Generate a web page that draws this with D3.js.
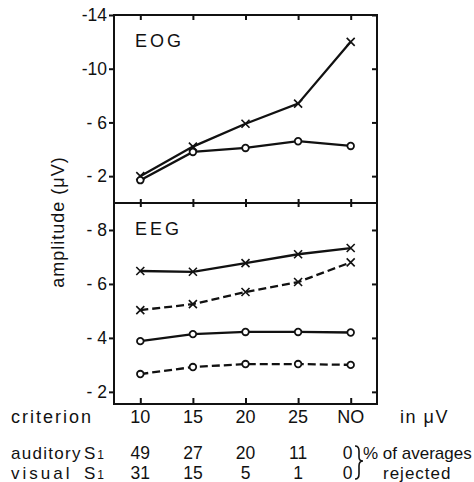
<!DOCTYPE html>
<html>
<head>
<meta charset="utf-8">
<script src="https://cdn.jsdelivr.net/npm/d3@7"></script>
<style>
  html, body { margin: 0; padding: 0; background: #fff; }
  svg { display: block; font-family: "Liberation Sans", Arial, sans-serif; }
</style>
</head>
<body>
<svg id="chart"></svg>
<script>
const criteria = ["10", "15", "20", "25", "NO"];

// EOG panel
const eogCross = [-2.0, -4.2, -5.9, -7.4, -12.0];
const eogCircle = [-1.7, -3.8, -4.1, -4.6, -4.25];

// EEG panel
const eegCrossSolid = [-6.48, -6.45, -6.77, -7.1, -7.33];
const eegCrossDashed = [-5.03, -5.25, -5.7, -6.07, -6.8];
const eegCircleSolid = [-3.88, -4.14, -4.22, -4.22, -4.2];
const eegCircleDashed = [-2.66, -2.92, -3.03, -3.03, -3.0];

const eogTicks = [-14, -10, -6, -2];
const eegTicks = [-8, -6, -4, -2];

const auditoryRejected = [49, 27, 20, 11, 0];
const visualRejected = [31, 15, 5, 1, 0];

const W = 474, H = 482;
const frame = { left: 114, right: 377, top: 15, mid: 203, bottom: 404 };

const svg = d3.select("#chart").attr("width", W).attr("height", H);

const x = d3.scalePoint().domain(criteria).range([frame.left, frame.right]).padding(0.5);
const yEog = d3.scaleLinear().domain([0, -14]).range([frame.mid, frame.top]);
const yEeg = d3.scaleLinear().domain([-1.55, -9]).range([frame.bottom, frame.mid]);

const fmt = (d) => (d <= -10 ? String(d) : "- " + Math.abs(d));

function styleAxis(g) {
  g.select(".domain").remove();
  g.selectAll("line").attr("stroke", "#111").attr("stroke-width", 2);
  g.selectAll("text")
    .attr("fill", "#111")
    .attr("font-size", 17.5)
    .attr("font-family", "Liberation Sans, Arial, sans-serif");
}

// left axes with labels
svg.append("g")
  .attr("transform", `translate(${frame.left},0)`)
  .call(d3.axisLeft(yEog).tickValues(eogTicks).tickSize(5).tickPadding(2).tickFormat(fmt))
  .call(styleAxis);
svg.append("g")
  .attr("transform", `translate(${frame.left},0)`)
  .call(d3.axisLeft(yEeg).tickValues(eegTicks).tickSize(5).tickPadding(2).tickFormat(fmt))
  .call(styleAxis);

// right inner ticks
svg.append("g")
  .attr("transform", `translate(${frame.right},0)`)
  .call(d3.axisLeft(yEog).tickValues(eogTicks).tickSize(5).tickFormat(""))
  .call(styleAxis);
svg.append("g")
  .attr("transform", `translate(${frame.right},0)`)
  .call(d3.axisLeft(yEeg).tickValues(eegTicks).tickSize(5).tickFormat(""))
  .call(styleAxis);

// x ticks: top (down), divider (both), bottom (up)
svg.append("g")
  .attr("transform", `translate(0,${frame.top})`)
  .call(d3.axisBottom(x).tickSize(5).tickFormat(""))
  .call(styleAxis);
svg.append("g")
  .attr("transform", `translate(0,${frame.mid})`)
  .call(d3.axisBottom(x).tickSize(4).tickFormat(""))
  .call(styleAxis);
svg.append("g")
  .attr("transform", `translate(0,${frame.mid})`)
  .call(d3.axisTop(x).tickSize(4).tickFormat(""))
  .call(styleAxis);
svg.append("g")
  .attr("transform", `translate(0,${frame.bottom})`)
  .call(d3.axisTop(x).tickSize(6).tickFormat(""))
  .call(styleAxis);

// frame
svg.append("rect")
  .attr("x", frame.left).attr("y", frame.top)
  .attr("width", frame.right - frame.left).attr("height", frame.bottom - frame.top)
  .attr("fill", "none").attr("stroke", "#111").attr("stroke-width", 2);
svg.append("line")
  .attr("x1", frame.left).attr("x2", frame.right)
  .attr("y1", frame.mid).attr("y2", frame.mid)
  .attr("stroke", "#111").attr("stroke-width", 2);

// series
const series = [
  { values: eogCross, y: yEog, marker: "x", dash: null },
  { values: eogCircle, y: yEog, marker: "o", dash: null },
  { values: eegCrossSolid, y: yEeg, marker: "x", dash: null },
  { values: eegCrossDashed, y: yEeg, marker: "x", dash: "8,4" },
  { values: eegCircleSolid, y: yEeg, marker: "o", dash: null },
  { values: eegCircleDashed, y: yEeg, marker: "o", dash: "8,4" },
];

series.forEach((s) => {
  const line = d3.line()
    .x((d, i) => x(criteria[i]))
    .y((d) => s.y(d));

  svg.append("path")
    .attr("d", line(s.values))
    .attr("fill", "none")
    .attr("stroke", "#111")
    .attr("stroke-width", 2.3)
    .attr("stroke-dasharray", s.dash);

  const pts = svg.append("g")
    .selectAll("g")
    .data(s.values)
    .join("g")
    .attr("transform", (d, i) => `translate(${x(criteria[i])},${s.y(d)})`);

  if (s.marker === "o") {
    pts.append("circle")
      .attr("r", 3.3)
      .attr("fill", "#fff")
      .attr("stroke", "#111")
      .attr("stroke-width", 1.8);
  } else {
    pts.append("path")
      .attr("d", "M-4,-4L4,4M-4,4L4,-4")
      .attr("stroke", "#111")
      .attr("stroke-width", 1.6);
  }
});

// panel labels
svg.append("text")
  .attr("x", 135).attr("y", 47)
  .attr("font-size", 18).attr("letter-spacing", 3).attr("fill", "#111")
  .text("EOG");
svg.append("text")
  .attr("x", 135).attr("y", 235)
  .attr("font-size", 18).attr("letter-spacing", 3).attr("fill", "#111")
  .text("EEG");

// y label
svg.append("text")
  .attr("transform", "translate(64,222) rotate(-90)")
  .attr("text-anchor", "middle")
  .attr("font-size", 18).attr("letter-spacing", 1).attr("fill", "#111")
  .text("amplitude (\u03bcV)");

// criterion row
svg.append("text")
  .attr("x", 11).attr("y", 423)
  .attr("font-size", 18).attr("letter-spacing", 2).attr("fill", "#111")
  .text("criterion");
svg.append("g")
  .selectAll("text")
  .data(criteria)
  .join("text")
  .attr("x", (d) => x(d)).attr("y", 423)
  .attr("text-anchor", "middle")
  .attr("font-size", 18).attr("fill", "#111")
  .text((d) => d);
svg.append("text")
  .attr("x", 400).attr("y", 423)
  .attr("font-size", 18).attr("letter-spacing", 1.5).attr("fill", "#111")
  .text("in  \u03bcV");

// rejection rows
const rows = [
  { label: "auditory", spacing: 1.3, values: auditoryRejected, y: 459 },
  { label: "visual", spacing: 3, values: visualRejected, y: 479 },
];
rows.forEach((r) => {
  svg.append("text")
    .attr("x", 11).attr("y", r.y)
    .attr("font-size", 17).attr("letter-spacing", r.spacing).attr("fill", "#111")
    .text(r.label);
  const s = svg.append("text")
    .attr("x", 84).attr("y", r.y)
    .attr("font-size", 17).attr("fill", "#111");
  s.append("tspan").text("S");
  s.append("tspan").attr("font-size", 12).attr("dx", 2).text("1");
  svg.append("g")
    .selectAll("text")
    .data(r.values)
    .join("text")
    .attr("x", (d, i) => x(criteria[i]) - (i === criteria.length - 1 ? 3 : 0))
    .attr("y", r.y)
    .attr("text-anchor", "middle")
    .attr("font-size", 17.5).attr("fill", "#111")
    .text((d) => d);
});

// brace and note
svg.append("path")
  .attr("d", "M355,446 Q359,446 359,451 L359,457 Q359,461 363,461 Q359,461 359,466 L359,474 Q359,479 355,479")
  .attr("fill", "none").attr("stroke", "#111").attr("stroke-width", 1.6);
svg.append("text")
  .attr("x", 363).attr("y", 459)
  .attr("font-size", 17).attr("fill", "#111")
  .text("% of averages");
svg.append("text")
  .attr("x", 383).attr("y", 479)
  .attr("font-size", 17).attr("letter-spacing", 1).attr("fill", "#111")
  .text("rejected");
</script>
</body>
</html>
